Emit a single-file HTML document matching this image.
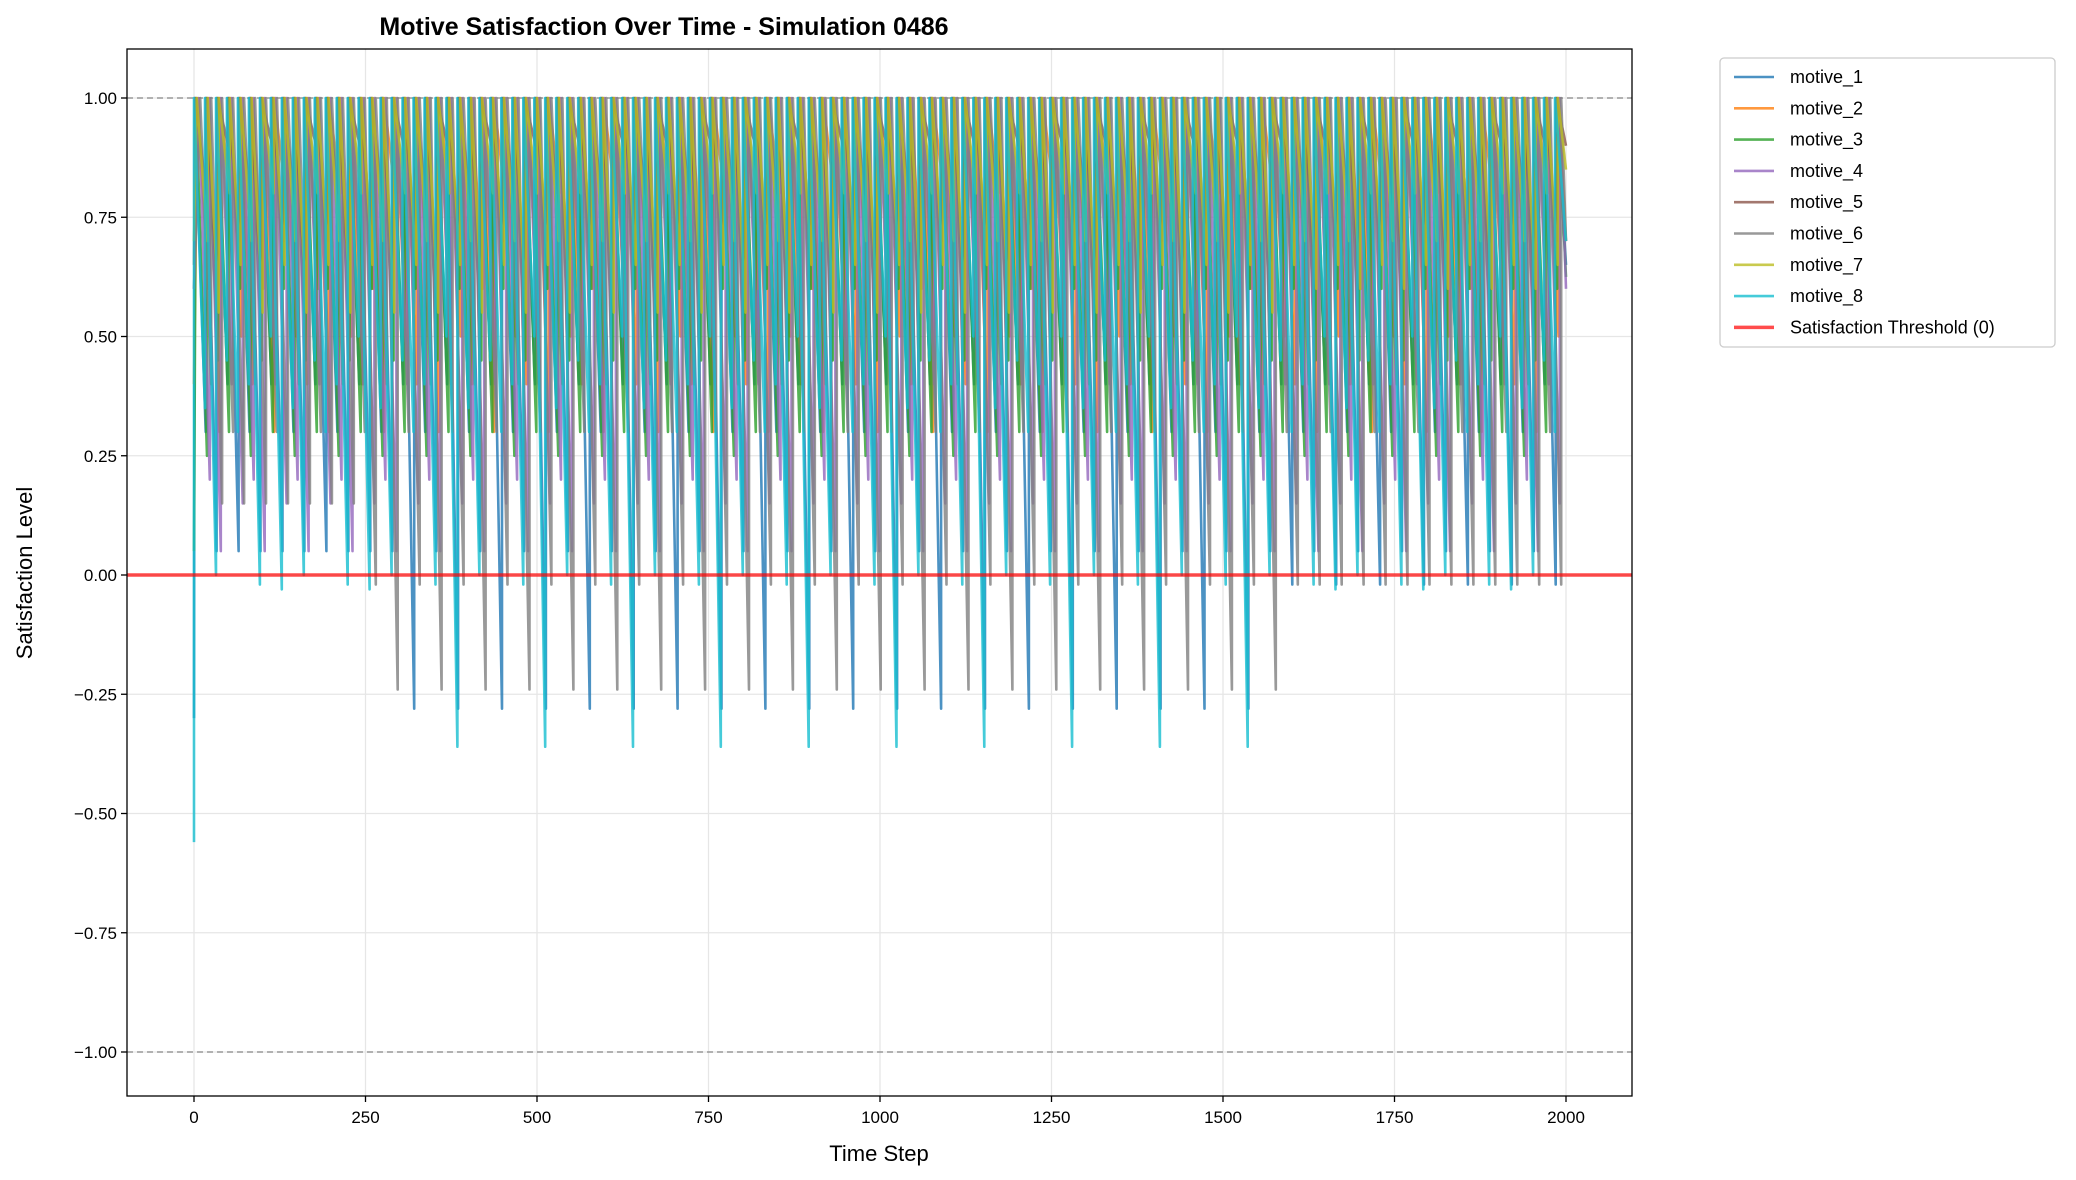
<!DOCTYPE html>
<html><head><meta charset="utf-8"><style>
body{margin:0;background:#fff;}
svg{display:block;font-family:"Liberation Sans","DejaVu Sans",sans-serif;}
</style></head><body>
<svg id="chart" width="2076" height="1180" viewBox="0 0 2076 1180">
<rect width="2076" height="1180" fill="#fff"/>
<text x="664" y="35" text-anchor="middle" font-size="25" font-weight="bold">Motive Satisfaction Over Time - Simulation 0486</text>
<g id="grid"></g>
<g id="series" clip-path="url(#clip)"></g>
<defs><clipPath id="clip"><rect x="127" y="49" width="1505" height="1047"/></clipPath></defs>
<g id="axes"></g>
<text x="879" y="1161" text-anchor="middle" font-size="22">Time Step</text>
<text transform="translate(32,573) rotate(-90)" text-anchor="middle" font-size="22">Satisfaction Level</text>
<g id="legend"></g>
</svg>
<script>
const seriesNames=["motive_1","motive_2","motive_3","motive_4","motive_5","motive_6","motive_7","motive_8"];
const seriesColors=["#1f77b4","#ff7f0e","#2ca02c","#9467bd","#8c564b","#7f7f7f","#bcbd22","#17becf"];
const troughs1=[0.3,0.05,0.4,-0.28];
const troughs2=[0.6,0.3,0.8,0.5,0.4];
const troughs3=[0.25,0.45,0.3,0.6];
const troughs4=[0.2,0.05,0.4,0.15];
const troughs5=[0.8,0.6,0.9,0.7];
const troughs6=[0.4,-0.24,0.3,-0.02];
const troughs7=[0.7,0.55,0.8,0.65];
const troughs8=[0.35,0.0,0.45,0.3,0.4,-0.02,0.5,-0.36];
const troughPatterns=[troughs1,troughs2,troughs3,troughs4,troughs5,troughs6,troughs7,troughs8];
const lateTrough=[-0.02,-0.05,0.25,-0.03,0.45,-0.02,0.6,-0.03];
const earlyTrough=[0.05,0.0,0.2,-0.03,0.2,0.15,0.3,-0.03];
const startValues=[-0.3,0.4,0.05,0.6,0.65,0.6,0.7,-0.56];
const offsets=[1,5,3,7,2,9,4,0];
const cyclePeriod=16;
const earlyStep=265;
const changeStep=1590;
const xTicks=[0,250,500,750,1000,1250,1500,1750,2000];
const yTicks=[-1,-0.75,-0.5,-0.25,0,0.25,0.5,0.75,1];
const yTickLabels=["\u22121.00","\u22120.75","\u22120.50","\u22120.25","0.00","0.25","0.50","0.75","1.00"];
const PL=127,PR=1632,PT=49,PB=1096;
const X=v=>194+v*(1566-194)/2000;
const Y=v=>575-v*477;
const NS="http://www.w3.org/2000/svg";
function mk(tag,attrs,parent){const e=document.createElementNS(NS,tag);for(const k in attrs)e.setAttribute(k,attrs[k]);parent.appendChild(e);return e;}
const grid=document.getElementById('grid'),axes=document.getElementById('axes'),ser=document.getElementById('series'),leg=document.getElementById('legend');
xTicks.forEach(t=>{const g=mk('line',{x1:X(t),x2:X(t),y1:PT,y2:PB,stroke:'#e6e6e6','stroke-width':1.3},grid);

const tk=mk('line',{x1:X(t),x2:X(t),y1:PB,y2:PB+6,stroke:'#000','stroke-width':1.3},axes);

const tx=mk('text',{x:X(t),y:PB+27,'text-anchor':'middle','font-size':17},axes);tx.textContent=t;
});
yTicks.forEach((t,i)=>{const g=mk('line',{x1:PL,x2:PR,y1:Y(t),y2:Y(t),stroke:'#e6e6e6','stroke-width':1.3},grid);

const tk=mk('line',{x1:PL-6,x2:PL,y1:Y(t),y2:Y(t),stroke:'#000','stroke-width':1.3},axes);

const tx=mk('text',{x:PL-10,y:Y(t)+6,'text-anchor':'end','font-size':17},axes);tx.textContent=yTickLabels[i];
});
[1,-1].forEach(v=>{const l=mk('line',{x1:PL,x2:PR,y1:Y(v),y2:Y(v),stroke:'#999','stroke-width':1.5,'stroke-dasharray':'6,4'},grid);
});
seriesNames.forEach((n,i)=>{
 const pat=troughPatterns[i];
 let pts=[[0,startValues[i]]];
 let s=offsets[i],k=0;
 while(s<2000){
  const e=Math.min(s+cyclePeriod,2000);
  let tr=pat[k%pat.length];
  if(e>=changeStep&&tr<lateTrough[i])tr=lateTrough[i];
  if(e<earlyStep&&tr<earlyTrough[i])tr=earlyTrough[i];
  pts.push([s,1]);
  pts.push([e,e>=2000?(1+tr)/2:tr]);
  s=e;k++;
 }
 const p=mk('polyline',{points:pts.map(q=>X(q[0]).toFixed(1)+','+Y(q[1]).toFixed(1)).join(' '),fill:'none',stroke:seriesColors[i],'stroke-width':2.6,'stroke-opacity':0.8,'stroke-linejoin':'round'},ser);
 
 
});
const th=mk('line',{x1:PL,x2:PR,y1:Y(0),y2:Y(0),stroke:'#ff0000','stroke-width':3.5,'stroke-opacity':0.7},axes);

const fr=mk('rect',{x:PL,y:PT,width:PR-PL,height:PB-PT,fill:'none',stroke:'#000','stroke-width':1.3},axes);

const lb=mk('rect',{x:1720,y:58,width:335,height:289,rx:4,fill:'#fff',stroke:'#ccc','stroke-width':1.3},leg);

const names=seriesNames.concat(["Satisfaction Threshold (0)"]);
const cols=seriesColors.concat(["#ff0000"]);
names.forEach((n,i)=>{const y=77+i*31.3;
 const l=mk('line',{x1:1734,x2:1774,y1:y,y2:y,stroke:cols[i],'stroke-width':i==8?3.5:2.6,'stroke-opacity':i==8?0.7:0.8},leg);
 
 const t=mk('text',{x:1790,y:y+6,'font-size':18},leg);t.textContent=n;
 });
</script>
</body></html>
